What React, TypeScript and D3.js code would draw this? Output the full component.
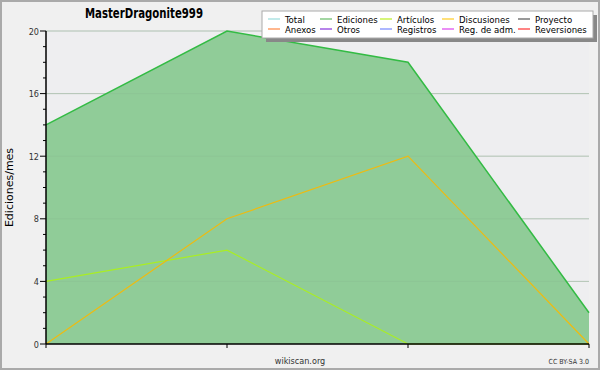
import React from "react";
import * as d3 from "d3";

const months = ["m1", "m2", "m3", "m4"];
const ediciones = [14, 20, 18, 2];
const articulos = [4, 6, 0, 0];
const discusiones = [0, 8, 12, 0];
const yTicks = [0, 4, 8, 12, 16, 20];
const legendNames = [
  ["Total", "Ediciones", "Artículos", "Discusiones", "Proyecto"],
  ["Anexos", "Otros", "Registros", "Reg. de adm.", "Reversiones"],
];
const legendColors = [
  ["#99dddd", "#66bb66", "#bbee22", "#ffcc22", "#555555"],
  ["#ff8844", "#8833dd", "#7788ff", "#dd44ee", "#ff3333"],
];

const W = 600, H = 370;
const L = 46, R = 589, T = 31, B = 344;

export default function App() {
  const x = d3.scalePoint<string>().domain(months).range([L, R]);
  const y = d3.scaleLinear().domain([0, 20]).range([B, T]);
  const area = d3.area<number>().x((_, i) => x(months[i])!).y0(B).y1((d) => y(d));
  const line = d3.line<number>().x((_, i) => x(months[i])!).y((d) => y(d));
  const minor = d3.range(0, 21);
  const font = "DejaVu Sans, sans-serif";
  const cond = "DejaVu Sans Condensed, DejaVu Sans, sans-serif";
  return (
    <svg width={W} height={H} style={{ position: "absolute", left: 0, top: 0 }} fontFamily={font}>
      <rect x={0} y={0} width={W} height={H} fill="#f0f0f0" />
      <rect x={1} y={1} width={W - 2} height={H - 2} fill="none" stroke="#aaaaaa" strokeWidth={2} />
      <rect x={L} y={T} width={R - L} height={B - T} fill="#eeeef0" />
      {yTicks.slice(1).map((t) => (
        <line key={t} x1={L} x2={R} y1={y(t)} y2={y(t)} stroke="#cccccc" strokeWidth={1} />
      ))}
      <path d={area(ediciones)!} fill="#90cc98" />
      {yTicks.slice(1).map((t) => (
        <line key={"g" + t} x1={L} x2={R} y1={y(t)} y2={y(t)} stroke="#88bb90" strokeWidth={1} opacity={0.35} />
      ))}
      <path d={line(ediciones)!} fill="none" stroke="#33bb44" strokeWidth={1.5} />
      <path d={line(articulos)!} fill="none" stroke="#aaee22" strokeWidth={1.2} />
      <path d={line(discusiones)!} fill="none" stroke="#eebb11" strokeWidth={1.2} />
      {/* y axis */}
      <line x1={L} x2={L} y1={T} y2={B} stroke="#000" strokeWidth={1.5} />
      {minor.map((t) => (
        <line key={"m" + t} x1={t % 4 === 0 ? L - 6 : L - 3} x2={L} y1={y(t)} y2={y(t)} stroke="#000" strokeWidth={1} />
      ))}
      {yTicks.map((t) => (
        <text key={"l" + t} x={L - 7} y={y(t) + 3.5} textAnchor="end" fontSize={9} fill="#333" fontFamily={cond}>{t}</text>
      ))}
      {/* x axis */}
      <line x1={L} x2={R} y1={B} y2={B} stroke="#000" strokeWidth={1.5} />
      {months.map((m) => (
        <line key={m} x1={x(m)!} x2={x(m)!} y1={B} y2={B + 4} stroke="#000" strokeWidth={1} />
      ))}
      <text transform={`translate(13,${(T + B) / 2}) rotate(-90)`} textAnchor="middle" fontSize={11} fill="#000">Ediciones/mes</text>
      <text x={300} y={364} textAnchor="middle" fontSize={9} fill="#333" fontFamily={cond}>wikiscan.org</text>
      <text x={589} y={364} textAnchor="end" fontSize={7} fill="#333" fontFamily={cond}>CC BY-SA 3.0</text>
      <text x={85} y={18} fontSize={13.5} fontWeight="bold" fill="#000" fontFamily={cond} textLength={118} lengthAdjust="spacingAndGlyphs">MasterDragonite999</text>
      {/* legend */}
      <rect x={266} y={15} width={331} height={27} fill="#888888" />
      <rect x={262} y={11} width={331} height={27} fill="#ffffff" stroke="#aaaaaa" strokeWidth={1} />
      {legendNames.map((row, r) =>
        row.map((name, c) => {
          const cx = [268, 320, 380, 442, 518][c];
          const cy = 19 + r * 10;
          return (
            <g key={name}>
              <line x1={cx} x2={cx + 12} y1={cy} y2={cy} stroke={legendColors[r][c]} strokeWidth={1.2} />
              <text x={cx + 17} y={cy + 3.5} fontSize={9.5} fill="#000" fontFamily={cond}>{name}</text>
            </g>
          );
        })
      )}
    </svg>
  );
}
